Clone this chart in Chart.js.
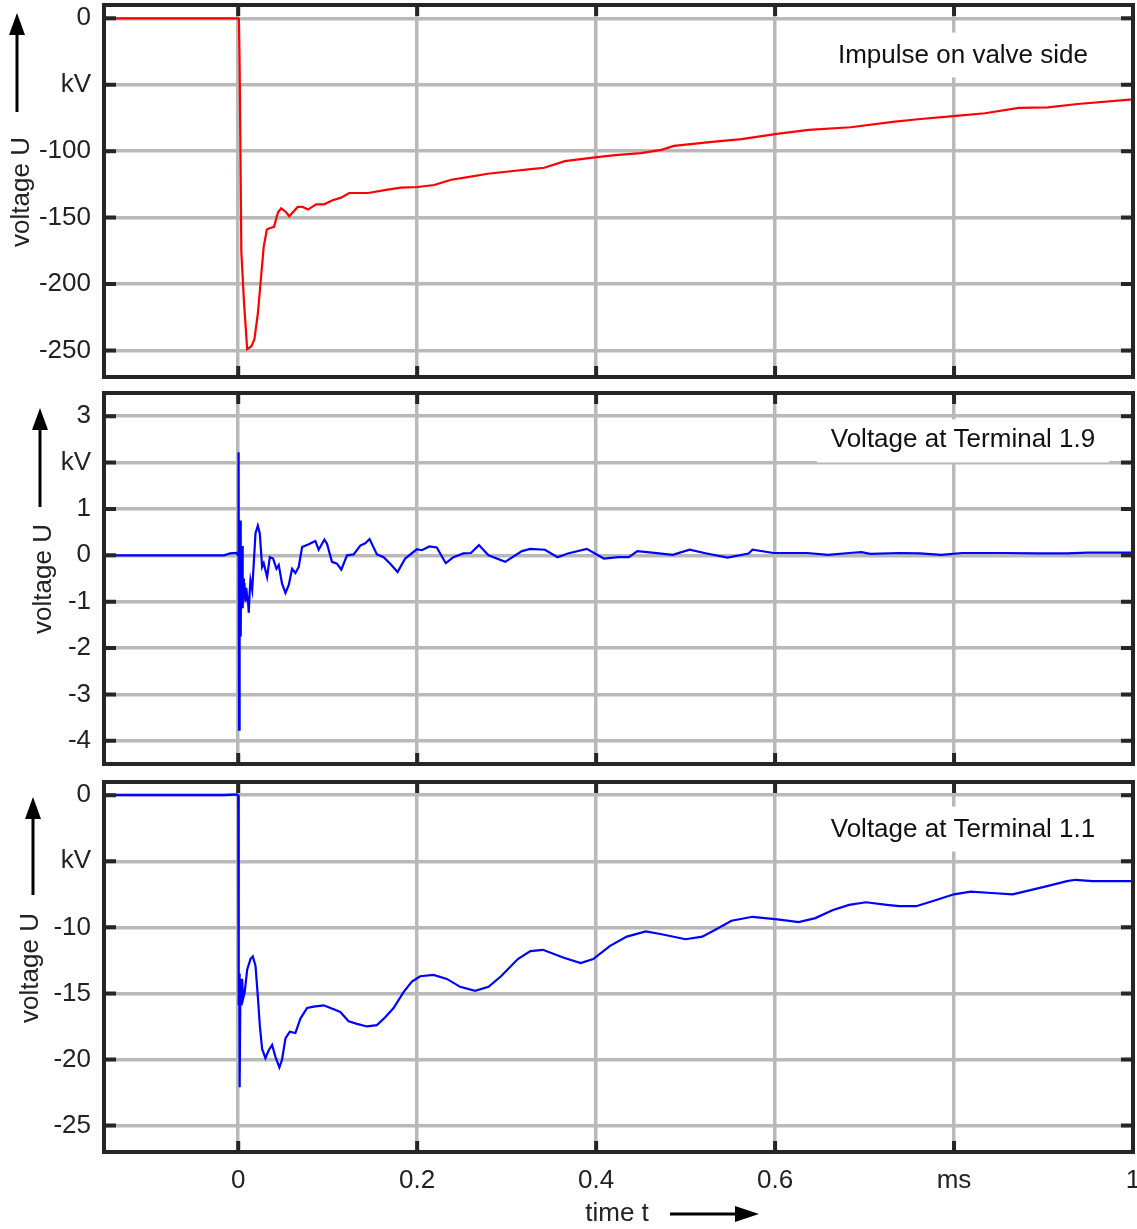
<!DOCTYPE html>
<html>
<head>
<meta charset="utf-8">
<script src="https://cdn.jsdelivr.net/npm/chart.js@4/dist/chart.umd.min.js"></script>
<style>
  body { margin: 0; background: #fff; }
  #wrap { position: relative; width: 1137px; height: 1229px; overflow: hidden; }
  canvas { position: absolute; left: 0; }
</style>
</head>
<body>
<div id="wrap">
  <canvas id="c1" width="1137" height="381" style="top:0px"></canvas>
  <canvas id="c2" width="1137" height="379" style="top:389px"></canvas>
  <canvas id="c3" width="1137" height="451" style="top:778px"></canvas>
</div>
<script>
// time axis (ms), shared by all three panels
const xTicks = [0, 0.2, 0.4, 0.6, 0.8, 1.0];
const xTickLabels = ['0', '0.2', '0.4', '0.6', 'ms', '1'];

// panel 1 - impulse on valve side (kV)
const valveTime = [
  -0.15, 0.0, 0.0008, 0.0015, 0.0020, 0.0035, 0.0065, 0.0100, 0.0145, 0.0180,
  0.0220, 0.0255, 0.0285, 0.0320, 0.0350, 0.0400, 0.0445, 0.0480, 0.0535, 0.0570,
  0.0665, 0.0720, 0.0780, 0.0870, 0.0960, 0.1055, 0.1150, 0.1240, 0.1450, 0.1670,
  0.1820, 0.2005, 0.2190, 0.2380, 0.2565, 0.2790, 0.2995, 0.3270, 0.3420, 0.3650,
  0.4010, 0.4215, 0.4500, 0.4730, 0.4870, 0.5295, 0.5625, 0.6020, 0.6375, 0.6845,
  0.7315, 0.7595, 0.8020, 0.8345, 0.8725, 0.9050, 0.9380, 1.0
];
const valveVolt = [
  0, 0, -2, -30, -65, -176, -214, -249, -247, -242,
  -222, -195, -172, -159, -158, -157, -146, -143, -146, -149,
  -142, -142, -144, -140, -140, -137, -135, -131.5, -131.5, -129,
  -127.5, -127, -125.5, -121.5, -119.5, -117, -115.5, -113.5, -112.5, -107.5,
  -104.5, -103, -101.5, -99, -96, -93, -91, -87, -84, -82,
  -78, -76, -73.5, -71.5, -67.5, -67, -64.5, -61
];
const valveTicks = [0, -50, -100, -150, -200, -250];
const valveTickLabels = ['0', 'kV', '-100', '-150', '-200', '-250'];

// panel 2 - terminal 1.9 (kV)
const term19Time = [
  -0.15, -0.016, -0.009, -0.002, 0.0, 0.0004, 0.0009, 0.0013, 0.0018, 0.0023,
  0.0028, 0.0033, 0.0039, 0.0044, 0.0050, 0.0055, 0.0063, 0.0070, 0.0081, 0.0090,
  0.0100, 0.0110, 0.0118, 0.0128, 0.0137, 0.0156, 0.0174, 0.0193, 0.0219, 0.0241,
  0.0267, 0.0285, 0.0323, 0.0353, 0.0390, 0.0427, 0.0453, 0.0490, 0.0528, 0.0565,
  0.0602, 0.0639, 0.0676, 0.0714, 0.0788, 0.0862, 0.0899, 0.0963, 0.0992, 0.1048,
  0.1104, 0.1152, 0.1216, 0.1290, 0.1364, 0.1420, 0.1468, 0.1550, 0.1625, 0.1699,
  0.1781, 0.1866, 0.1996, 0.2052, 0.2137, 0.2219, 0.2320, 0.2405, 0.2516, 0.2600,
  0.2690, 0.2797, 0.2984, 0.3171, 0.3265, 0.3428, 0.3569, 0.3684, 0.3896, 0.4086,
  0.4250, 0.4365, 0.4461, 0.4625, 0.4856, 0.5045, 0.5235, 0.5469, 0.5704, 0.5748,
  0.5982, 0.6358, 0.6592, 0.6827, 0.6964, 0.7064, 0.7388, 0.7622, 0.7857, 0.8090,
  0.8559, 0.8938, 0.9262, 0.9496, 1.0
];
const term19Volt = [
  0, 0, 0.04, 0.05, 0, 2.22, -3.76, 0.4, -1.9, 0.75,
  -1.75, 0.1, -1.1, 0.2, -1.14, -0.5, -0.95, -0.6, -1.0, -0.7,
  -0.9, -1.0, -1.24, -0.8, -0.54, -0.75, -0.17, 0.47, 0.64, 0.47,
  -0.25, -0.17, -0.47, -0.04, -0.07, -0.29, -0.21, -0.61, -0.81, -0.64,
  -0.29, -0.38, -0.25, 0.18, 0.24, 0.31, 0.12, 0.34, 0.25, -0.14,
  -0.18, -0.31, 0.0, 0.02, 0.21, 0.26, 0.35, 0.02, -0.04, -0.18,
  -0.36, -0.07, 0.13, 0.11, 0.19, 0.17, -0.17, -0.04, 0.04, 0.05,
  0.22, 0.0, -0.14, 0.09, 0.14, 0.12, -0.04, 0.04, 0.14, -0.07,
  -0.04, -0.04, 0.09, 0.06, 0.01, 0.12, 0.04, -0.05, 0.04, 0.12,
  0.05, 0.05, 0.01, 0.05, 0.07, 0.03, 0.05, 0.04, 0.01, 0.05,
  0.05, 0.04, 0.04, 0.06, 0.06
];
const term19Ticks = [3, 2, 1, 0, -1, -2, -3, -4];
const term19TickLabels = ['3', 'kV', '1', '0', '-1', '-2', '-3', '-4'];

// panel 3 - terminal 1.1 (kV)
const term11Time = [
  -0.15, -0.015, -0.005, -0.001, 0.0, 0.0003, 0.0008, 0.0012, 0.0016, 0.0025,
  0.0033, 0.0044, 0.0055, 0.0073, 0.0100, 0.0137, 0.0163, 0.0193, 0.0219, 0.0241,
  0.0267, 0.0304, 0.0341, 0.0379, 0.0416, 0.0460, 0.0490, 0.0528, 0.0576, 0.0639,
  0.0695, 0.0770, 0.0844, 0.0955, 0.1067, 0.1141, 0.1234, 0.1327, 0.1439, 0.1550,
  0.1643, 0.1736, 0.1848, 0.1941, 0.2034, 0.2183, 0.2332, 0.2480, 0.2647, 0.2797,
  0.2937, 0.3125, 0.3265, 0.3405, 0.3639, 0.3827, 0.3967, 0.4156, 0.4343, 0.4555,
  0.4718, 0.5000, 0.5186, 0.5327, 0.5513, 0.5747, 0.6026, 0.6264, 0.6450, 0.6640,
  0.6827, 0.7015, 0.7249, 0.7388, 0.7577, 0.7765, 0.7999, 0.8186, 0.8420, 0.8655,
  0.8842, 0.9028, 0.9262, 0.9358, 0.9546, 1.0
];
const term11Volt = [
  0, 0, 0.05, 0.05, 0, -1.5, -15.9, -13.5, -22.1, -13.9,
  -15.9, -13.9, -15.4, -14.9, -13.2, -12.4, -12.2, -12.9, -15.2, -17.4,
  -19.2, -19.9, -19.3, -18.9, -19.8, -20.6, -20.0, -18.4, -17.9, -18.0,
  -16.9, -16.1, -16.0, -15.9, -16.2, -16.4, -17.1, -17.3, -17.5, -17.4,
  -16.8, -16.1, -14.9, -14.1, -13.7, -13.6, -13.9, -14.5, -14.8, -14.5,
  -13.7, -12.4, -11.8, -11.7, -12.3, -12.7, -12.4, -11.4, -10.7, -10.3,
  -10.5, -10.9, -10.7, -10.2, -9.5, -9.2, -9.4, -9.6, -9.3, -8.7,
  -8.3, -8.1, -8.3, -8.4, -8.4, -8.0, -7.5, -7.3, -7.4, -7.5,
  -7.2, -6.9, -6.5, -6.4, -6.5, -6.5
];
const term11Ticks = [0, -5, -10, -15, -20, -25];
const term11TickLabels = ['0', 'kV', '-10', '-15', '-20', '-25'];

const FONT = '26px "Liberation Sans", Arial, sans-serif';
const TXT = '#222';
const FRAME = '#262626';
const GRID = '#b9b9b9';

function arrowUp(ctx, x, yBottom, yTip) {
  ctx.beginPath();
  ctx.moveTo(x, yBottom);
  ctx.lineTo(x, yTip + 18);
  ctx.stroke();
  ctx.beginPath();
  ctx.moveTo(x, yTip);
  ctx.lineTo(x - 8, yTip + 22);
  ctx.lineTo(x + 8, yTip + 22);
  ctx.closePath();
  ctx.fill();
}

// frame, inside tick marks, panel label, axis titles with arrows
const panelDecor = {
  id: 'panelDecor',
  beforeDatasetsDraw(chart, args, o) {
    const ctx = chart.ctx, xs = chart.scales.x, ys = chart.scales.y;
    const cx = xs.getPixelForValue(o.labelAt[0]);
    const cy = ys.getPixelForValue(o.labelAt[1]);
    ctx.save();
    ctx.font = FONT;
    const w = ctx.measureText(o.label).width;
    ctx.fillStyle = '#fff';
    ctx.fillRect(cx - w / 2 - 14, cy - o.box[0], w + 28, o.box[0] + o.box[1]);
    ctx.fillStyle = '#111';
    ctx.textAlign = 'center';
    ctx.textBaseline = 'middle';
    ctx.fillText(o.label, cx, cy);
    ctx.restore();
  },
  afterDatasetsDraw(chart) {
    const ctx = chart.ctx, a = chart.chartArea, xs = chart.scales.x, ys = chart.scales.y;
    ctx.save();
    ctx.strokeStyle = FRAME;
    ctx.lineWidth = 4;
    ctx.beginPath();
    ys.ticks.forEach(t => {
      const y = ys.getPixelForValue(t.value);
      ctx.moveTo(a.left, y); ctx.lineTo(a.left + 12, y);
      ctx.moveTo(a.right - 12, y); ctx.lineTo(a.right, y);
    });
    xTicks.forEach(v => {
      const x = xs.getPixelForValue(v);
      ctx.moveTo(x, a.top); ctx.lineTo(x, a.top + 11);
      ctx.moveTo(x, a.bottom - 11); ctx.lineTo(x, a.bottom);
    });
    ctx.stroke();
    ctx.strokeRect(a.left, a.top, a.right - a.left, a.bottom - a.top);
    ctx.restore();
  },
  afterDraw(chart, args, o) {
    const ctx = chart.ctx;
    ctx.save();
    ctx.font = FONT;
    ctx.fillStyle = TXT;
    ctx.strokeStyle = '#000';
    ctx.lineWidth = 3;
    ctx.textAlign = 'center';
    ctx.textBaseline = 'middle';
    ctx.save();
    ctx.translate(o.titleX, o.titleY);
    ctx.rotate(-Math.PI / 2);
    ctx.fillText('voltage U', 0, 0);
    ctx.restore();
    ctx.fillStyle = '#000';
    arrowUp(ctx, o.arrowX, o.arrowBottom, o.arrowTip);
    if (o.xTitle) {
      ctx.fillStyle = TXT;
      ctx.fillText('time t', 617, 436);
      ctx.fillStyle = '#000';
      ctx.beginPath();
      ctx.moveTo(670, 436); ctx.lineTo(738, 436);
      ctx.stroke();
      ctx.beginPath();
      ctx.moveTo(759, 436); ctx.lineTo(735, 428); ctx.lineTo(735, 444);
      ctx.closePath();
      ctx.fill();
    }
    ctx.restore();
  }
};

function makePanel(id, p) {
  return new Chart(document.getElementById(id), {
    type: 'line',
    data: {
      datasets: [{
        data: p.time.map((t, i) => ({ x: t, y: p.volt[i] })),
        borderColor: p.color,
        borderWidth: 2.2,
        pointRadius: 0,
        tension: 0,
        fill: false
      }]
    },
    options: {
      responsive: false,
      animation: false,
      events: [],
      layout: { padding: { top: p.padTop, right: 4, left: 0, bottom: 0 } },
      plugins: {
        legend: { display: false },
        tooltip: { enabled: false },
        panelDecor: p.decor
      },
      scales: {
        x: {
          type: 'linear', min: -0.15, max: 1.0,
          afterBuildTicks: s => { s.ticks = xTicks.map(v => ({ value: v })); },
          afterFit: s => { s.height = p.xHeight; s.paddingLeft = 0; s.paddingRight = 0; },
          grid: { color: GRID, lineWidth: 3.5, drawTicks: false },
          border: { display: false },
          ticks: {
            display: p.showX, autoSkip: false, maxRotation: 0, padding: 13,
            font: { family: '"Liberation Sans", Arial, sans-serif', size: 26 }, color: TXT,
            callback: (v, i) => xTickLabels[i]
          }
        },
        y: {
          type: 'linear', min: p.yMin, max: p.yMax,
          afterBuildTicks: s => { s.ticks = p.ticks.map(v => ({ value: v })); },
          afterFit: s => { s.width = 104; s.paddingTop = 0; s.paddingBottom = 0; },
          grid: { color: GRID, lineWidth: 3.5, drawTicks: false },
          border: { display: false },
          ticks: {
            autoSkip: false, padding: 13,
            font: { family: '"Liberation Sans", Arial, sans-serif', size: 26 }, color: TXT,
            callback: (v, i) => p.tickLabels[i]
          }
        }
      }
    },
    plugins: [panelDecor]
  });
}

makePanel('c1', {
  time: valveTime, volt: valveVolt, color: '#ff0000',
  yMin: -270, yMax: 10, ticks: valveTicks, tickLabels: valveTickLabels,
  padTop: 5, xHeight: 4, showX: false,
  decor: { label: 'Impulse on valve side', labelAt: [0.81, -28], box: [23, 22],
           titleX: 22, titleY: 192, arrowX: 17, arrowBottom: 112, arrowTip: 13 }
});

makePanel('c2', {
  time: term19Time, volt: term19Volt, color: '#0000ff',
  yMin: -4.5, yMax: 3.5, ticks: term19Ticks, tickLabels: term19TickLabels,
  padTop: 4, xHeight: 4, showX: false,
  decor: { label: 'Voltage at Terminal 1.9', labelAt: [0.81, 2.5], box: [20, 23],
           titleX: 44, titleY: 190, arrowX: 40, arrowBottom: 118, arrowTip: 19 }
});

makePanel('c3', {
  time: term11Time, volt: term11Volt, color: '#0000ff',
  yMin: -27, yMax: 1, ticks: term11Ticks, tickLabels: term11TickLabels,
  padTop: 4, xHeight: 77, showX: true,
  decor: { label: 'Voltage at Terminal 1.1', labelAt: [0.81, -2.6], box: [23, 22],
           titleX: 31, titleY: 190, arrowX: 33, arrowBottom: 117, arrowTip: 19, xTitle: true }
});
</script>
</body>
</html>
